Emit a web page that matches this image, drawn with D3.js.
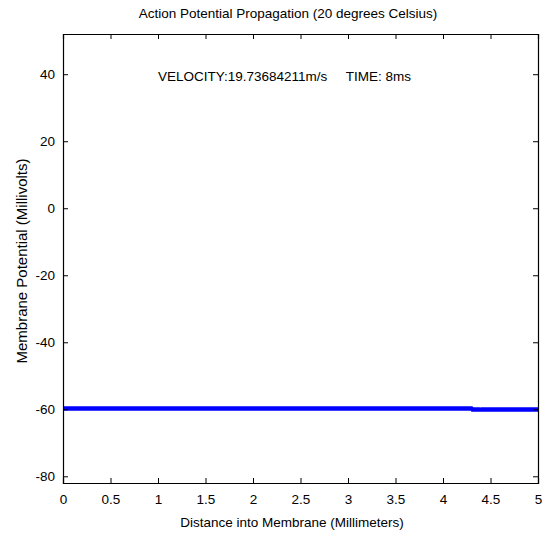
<!DOCTYPE html>
<html>
<head>
<meta charset="utf-8">
<script src="https://cdnjs.cloudflare.com/ajax/libs/d3/7.8.5/d3.min.js"></script>
<style>
  body { margin: 0; background: #fff; }
  text { font-family: "Liberation Sans", Arial, sans-serif; fill: #000; }
</style>
</head>
<body>
<div id="chart"></div>
<script>
// distance along membrane (mm) and membrane potential (mV)
const distance = [0, 1, 2, 3, 4, 4.3, 4.31, 4.38, 4.4, 5];
const potential = [-59.8, -59.8, -59.8, -59.8, -59.8, -59.8, -60.05, -60.05, -60.1, -60.1];
const xTicks = [0, 0.5, 1, 1.5, 2, 2.5, 3, 3.5, 4, 4.5, 5];
const yTicks = [-80, -60, -40, -20, 0, 20, 40];

const width = 542, height = 533;
const margin = {top: 34, right: 4, bottom: 50, left: 63};

let svg = d3.select("#chart").append("svg")
    .attr("width", width)
    .attr("height", height);

let x = d3.scaleLinear().domain([0, 5]).range([margin.left, width - margin.right]);
let y = d3.scaleLinear().domain([-82, 52]).range([height - margin.bottom, margin.top]);

const TICK = 5;
const FS = "13.5px";

//data line
svg.append("clipPath").attr("id", "clip")
    .append("rect")
    .attr("x", x(0)).attr("y", y(52))
    .attr("width", x(5) - x(0)).attr("height", y(-82) - y(52));

let line = d3.line().x((d, i) => x(distance[i])).y(d => y(d));
svg.append("path")
    .datum(potential)
    .attr("clip-path", "url(#clip)")
    .attr("d", line)
    .attr("fill", "none")
    .attr("stroke", "#0000ff")
    .attr("stroke-width", 4.5);

// axes (ticks drawn inward like matlab)
let fmt = d => String(d);
let bottomAxis = d3.axisBottom(x).tickValues(xTicks).tickSize(-TICK).tickPadding(TICK + 6).tickFormat(fmt);
let topAxis = d3.axisTop(x).tickValues(xTicks).tickSize(-TICK).tickFormat("");
let leftAxis = d3.axisLeft(y).tickValues(yTicks).tickSize(-TICK).tickPadding(TICK + 3).tickFormat(fmt);
let rightAxis = d3.axisRight(y).tickValues(yTicks).tickSize(-TICK).tickFormat("");

function style(g) {
    g.select(".domain").attr("stroke", "#000").attr("stroke-width", 1.2);
    g.selectAll(".tick line").attr("stroke", "#000").attr("stroke-width", 1);
    g.selectAll(".tick text").style("font-size", FS).attr("font-family", null);
}

svg.append("g").attr("transform", `translate(0,${y(-82)})`).call(bottomAxis).call(style);
svg.append("g").attr("transform", `translate(0,${y(52)})`).call(topAxis).call(style);
svg.append("g").attr("transform", `translate(${x(0)},0)`).call(leftAxis).call(style);
svg.append("g").attr("transform", `translate(${x(5)},0)`).call(rightAxis).call(style);

// titles
svg.append("text")
    .attr("x", 288).attr("y", 18)
    .attr("text-anchor", "middle")
    .style("font-size", FS)
    .text("Action Potential Propagation (20 degrees Celsius)");

svg.append("text")
    .attr("x", 158).attr("y", 81)
    .style("font-size", FS)
    .attr("xml:space", "preserve")
    .style("white-space", "pre")
    .text("VELOCITY:19.73684211m/s     TIME: 8ms");

svg.append("text")
    .attr("x", 292).attr("y", 527)
    .attr("text-anchor", "middle")
    .style("font-size", FS)
    .text("Distance into Membrane (Millimeters)");

svg.append("text")
    .attr("transform", `translate(27,261) rotate(-90)`)
    .attr("text-anchor", "middle")
    .style("font-size", "15px")
    .text("Membrane Potential (Millivolts)");
</script>
</body>
</html>
